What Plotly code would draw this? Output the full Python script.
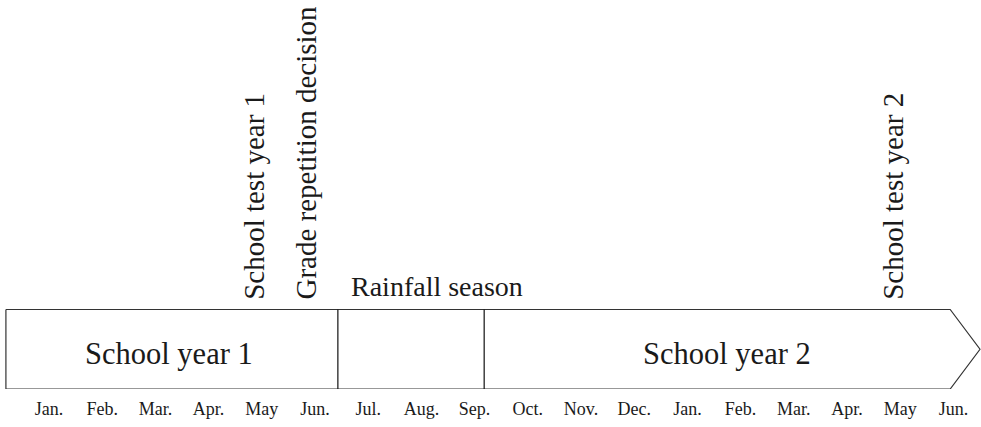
import plotly.graph_objects as go

# ---- data ----
months = ["Jan.", "Feb.", "Mar.", "Apr.", "May", "Jun.", "Jul.", "Aug.", "Sep.",
          "Oct.", "Nov.", "Dec.", "Jan.", "Feb.", "Mar.", "Apr.", "May", "Jun."]
month_pos = list(range(len(months)))

# timeline arrow outline (x in month-label units, y: 0 bottom, 1 top)
arrow_x = [-0.81, 16.94, 17.50, 16.94, -0.81, -0.81]
arrow_y = [1, 1, 0.5, 0, 0, 1]
dividers = [5.43, 8.18]

segments = ["School year 1", "School year 2"]
segment_x = [2.256, 12.75]
segment_y = [0.44, 0.44]

season_label = "Rainfall season"
season_x = 7.30
season_y = 1.07

events = ["School test year 1", "Grade repetition decision", "School test year 2"]
event_x = [3.85, 4.83, 15.86]
event_y = [1.10, 1.10, 1.10]

FONT = "Liberation Serif"
LINE = "#333333"

fig = go.Figure()
fig.add_trace(go.Scatter(x=arrow_x, y=arrow_y, mode="lines",
                         line=dict(color=LINE, width=1.2), cliponaxis=False,
                         hoverinfo="skip", showlegend=False))
for d in dividers:
    fig.add_trace(go.Scatter(x=[d, d], y=[0, 1], mode="lines",
                             line=dict(color="#111111", width=1.2), cliponaxis=False,
                             hoverinfo="skip", showlegend=False))

for s, x, y in zip(segments, segment_x, segment_y):
    fig.add_annotation(x=x, y=y, text=s, showarrow=False,
                       font=dict(family=FONT, size=30.5, color="#1a1a1a"),
                       xanchor="center", yanchor="middle")

fig.add_annotation(x=season_x, y=season_y, text=season_label, showarrow=False,
                   font=dict(family=FONT, size=28, color="#1a1a1a"),
                   xanchor="center", yanchor="bottom")

for e, x, y in zip(events, event_x, event_y):
    fig.add_annotation(x=x, y=y, text=e, showarrow=False, textangle=-90,
                       font=dict(family=FONT, size=29, color="#1a1a1a"),
                       xanchor="center", yanchor="bottom")

fig.update_layout(
    width=981, height=427,
    margin=dict(l=0, r=0, t=0, b=38),
    paper_bgcolor="white", plot_bgcolor="white",
    xaxis=dict(range=[-0.921, 17.519], tickvals=month_pos, ticktext=months,
               showgrid=False, zeroline=False, showline=False,
               ticks="outside", ticklen=3, tickcolor="rgba(0,0,0,0)",
               tickfont=dict(family=FONT, size=18, color="#1a1a1a"),
               automargin=False, fixedrange=True),
    yaxis=dict(range=[0, 4.893], visible=False, fixedrange=True),
)

fig.write_html("out.html", config={"displayModeBar": False},
               post_script="document.body.style.margin='0';")
